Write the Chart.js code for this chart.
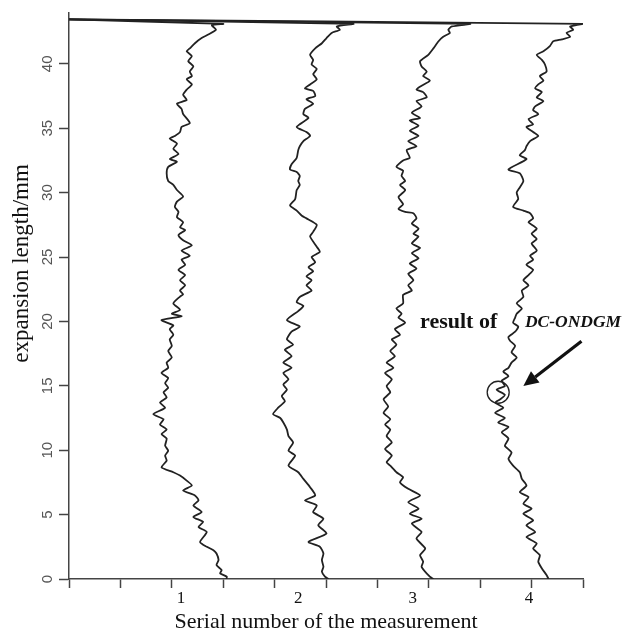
<!DOCTYPE html>
<html><head><meta charset="utf-8">
<script src="https://cdn.jsdelivr.net/npm/chart.js@4/dist/chart.umd.min.js"></script>
<style>html,body{margin:0;padding:0;background:#fff;}#wrap{width:628px;height:635px;}</style>
</head><body><div id="wrap"><canvas id="c" width="628" height="635"></canvas></div>
<script>
// Tick labels
const xTickLabels = ['1', '2', '3', '4'];
const yTickStep = 5;

// Measurement 1 (x: horizontal axis units, y: expansion length in mm)
const m1X = [0, 3.00, 2.78, 2.86, 2.71, 2.58, 2.45, 2.35, 2.29, 2.39, 2.32, 2.42, 2.35, 2.39, 2.29, 2.39, 2.29, 2.22, 2.29, 2.10, 2.19, 2.22, 2.35, 2.19, 2.16, 2.06, 1.96, 2.10, 2.03, 2.13, 1.96, 2.10, 1.93, 1.90, 1.93, 2.03, 2.10, 2.22, 2.10, 2.06, 2.13, 2.10, 2.22, 2.16, 2.26, 2.13, 2.22, 2.39, 2.19, 2.35, 2.19, 2.26, 2.13, 2.26, 2.16, 2.26, 2.16, 2.22, 2.16, 2.03, 2.16, 2.00, 2.19, 1.80, 2.03, 1.96, 2.03, 1.96, 2.00, 1.93, 2.00, 1.90, 1.93, 1.80, 1.93, 1.87, 1.93, 1.84, 1.90, 1.77, 1.87, 1.64, 1.84, 1.77, 1.90, 1.80, 1.90, 1.87, 1.93, 1.87, 1.90, 1.80, 2.03, 2.16, 2.29, 2.39, 2.22, 2.45, 2.52, 2.42, 2.58, 2.42, 2.61, 2.52, 2.68, 2.55, 2.68, 2.81, 2.87, 2.91, 2.87, 2.97, 2.94, 3.07, 3.06];
const m1Y = [43.45, 43.1, 42.99, 42.65, 42.27, 42.0, 41.6, 41.2, 40.98, 40.6, 40.2, 39.8, 39.4, 39.05, 38.8, 38.4, 38.0, 37.6, 37.2, 36.9, 36.5, 36.1, 35.4, 35.1, 34.7, 34.4, 34.2, 33.8, 33.4, 33.0, 32.6, 32.4, 32.0, 31.5, 30.9, 30.6, 30.2, 29.7, 29.3, 28.9, 28.5, 28.1, 27.7, 27.3, 27.1, 26.7, 26.3, 25.9, 25.5, 25.1, 24.8, 24.4, 24.0, 23.6, 23.2, 22.8, 22.4, 22.1, 21.93, 21.4, 20.9, 20.6, 20.4, 20.1, 19.7, 19.4, 18.97, 18.6, 18.1, 17.7, 17.2, 16.8, 16.4, 16.0, 15.6, 15.2, 14.85, 14.5, 14.1, 13.7, 13.3, 12.8, 12.4, 12.0, 11.6, 11.25, 10.9, 10.35, 9.96, 9.58, 9.19, 8.67, 8.29, 8.03, 7.64, 7.26, 6.87, 6.49, 6.10, 5.71, 5.20, 4.81, 4.43, 4.04, 3.65, 2.88, 2.50, 2.24, 1.98, 1.47, 1.08, 0.69, 0.44, 0.18, 0];

// Measurement 2
const m2X = [0, 5.53, 5.21, 5.27, 5.11, 5.01, 4.92, 4.79, 4.69, 4.75, 4.72, 4.82, 4.75, 4.82, 4.69, 4.59, 4.75, 4.79, 4.62, 4.75, 4.59, 4.56, 4.66, 4.43, 4.62, 4.69, 4.56, 4.49, 4.46, 4.43, 4.33, 4.30, 4.43, 4.49, 4.46, 4.49, 4.43, 4.40, 4.30, 4.43, 4.53, 4.62, 4.82, 4.75, 4.69, 4.82, 4.88, 4.72, 4.79, 4.66, 4.75, 4.62, 4.72, 4.62, 4.72, 4.49, 4.43, 4.56, 4.46, 4.24, 4.49, 4.33, 4.24, 4.36, 4.20, 4.33, 4.17, 4.33, 4.17, 4.27, 4.17, 4.24, 4.14, 4.20, 4.07, 3.97, 4.11, 4.17, 4.24, 4.27, 4.36, 4.27, 4.40, 4.27, 4.46, 4.56, 4.69, 4.79, 4.59, 4.82, 4.75, 4.95, 4.85, 5.01, 4.66, 4.88, 4.95, 4.92, 4.95, 4.92, 4.98, 5.05];
const m2Y = [43.45, 43.1, 42.9, 42.65, 42.4, 42.0, 41.6, 41.2, 40.7, 40.3, 39.95, 39.6, 39.2, 38.8, 38.4, 38.1, 37.9, 37.5, 37.25, 36.9, 36.5, 36.1, 35.8, 35.1, 34.7, 34.4, 34.0, 33.6, 33.3, 32.7, 32.2, 31.8, 31.6, 31.3, 30.9, 30.6, 30.2, 29.5, 29.0, 28.6, 28.2, 28.0, 27.5, 26.95, 26.6, 25.8, 25.4, 25.0, 24.6, 24.2, 23.9, 23.5, 23.2, 22.8, 22.4, 21.9, 21.5, 21.2, 20.8, 20.1, 19.6, 19.2, 18.6, 18.2, 17.8, 17.3, 16.8, 16.4, 16.0, 15.5, 15.1, 14.7, 14.2, 13.8, 13.3, 12.8, 12.5, 12.15, 11.6, 11.1, 10.6, 9.96, 9.58, 8.80, 8.29, 7.77, 7.13, 6.49, 6.10, 5.71, 5.20, 4.68, 4.17, 3.53, 2.88, 2.50, 1.98, 1.47, 0.95, 0.57, 0.18, 0];

// Measurement 3
const m3X = [0, 7.80, 7.45, 7.38, 7.41, 7.28, 7.19, 7.09, 6.99, 6.83, 6.86, 6.96, 6.89, 7.02, 6.86, 6.76, 6.89, 6.96, 6.76, 6.86, 6.67, 6.83, 6.63, 6.80, 6.63, 6.80, 6.60, 6.76, 6.57, 6.63, 6.50, 6.37, 6.50, 6.47, 6.54, 6.44, 6.54, 6.41, 6.50, 6.41, 6.54, 6.70, 6.76, 6.67, 6.80, 6.70, 6.80, 6.67, 6.83, 6.67, 6.80, 6.63, 6.76, 6.60, 6.70, 6.60, 6.67, 6.50, 6.50, 6.37, 6.47, 6.41, 6.54, 6.34, 6.44, 6.28, 6.37, 6.25, 6.34, 6.18, 6.31, 6.15, 6.28, 6.18, 6.25, 6.12, 6.21, 6.12, 6.25, 6.15, 6.25, 6.18, 6.28, 6.15, 6.28, 6.18, 6.25, 6.37, 6.50, 6.44, 6.60, 6.83, 6.60, 6.80, 6.63, 6.86, 6.67, 6.86, 6.76, 6.93, 6.83, 6.89, 6.86, 7.02, 7.09];
const m3Y = [43.45, 43.1, 42.9, 42.65, 42.4, 42.1, 41.75, 41.2, 40.7, 40.2, 39.8, 39.4, 39.05, 38.7, 38.3, 38.0, 37.8, 37.4, 37.1, 36.7, 36.2, 35.8, 35.6, 35.2, 34.8, 34.4, 34.0, 33.6, 33.3, 32.7, 32.5, 32.0, 31.7, 31.3, 30.9, 30.6, 30.2, 29.65, 29.1, 28.75, 28.5, 28.4, 28.0, 27.6, 27.2, 26.8, 26.6, 26.05, 25.7, 25.3, 24.9, 24.5, 24.1, 23.7, 23.2, 22.8, 22.4, 22.06, 21.4, 21.0, 20.6, 20.3, 19.9, 19.4, 18.97, 18.6, 18.2, 17.7, 17.3, 16.8, 16.4, 16.0, 15.5, 14.98, 14.5, 13.95, 13.4, 12.9, 12.4, 12.0, 11.6, 11.1, 10.6, 10.1, 9.58, 9.07, 8.80, 8.29, 7.90, 7.51, 7.0, 6.49, 5.97, 5.46, 5.07, 4.68, 4.30, 3.65, 3.14, 2.37, 1.85, 1.34, 0.95, 0.18, 0];

// Measurement 4 (DC-ONDGM)
const m4X = [0, 10.0, 9.75, 9.81, 9.68, 9.75, 9.59, 9.42, 9.36, 9.23, 9.10, 9.20, 9.26, 9.29, 9.16, 9.23, 9.13, 9.07, 9.20, 9.10, 9.23, 9.07, 9.03, 9.13, 8.94, 9.03, 8.90, 9.03, 9.13, 8.97, 8.90, 8.87, 8.77, 8.90, 8.55, 8.77, 8.84, 8.77, 8.71, 8.74, 8.64, 8.84, 8.97, 9.03, 8.94, 9.10, 9.00, 9.10, 9.00, 9.10, 8.97, 9.03, 8.90, 9.03, 8.94, 8.84, 8.94, 8.81, 8.84, 8.71, 8.81, 8.71, 8.68, 8.64, 8.74, 8.68, 8.55, 8.58, 8.68, 8.61, 8.71, 8.61, 8.55, 8.45, 8.55, 8.42, 8.48, 8.32, 8.48, 8.39, 8.29, 8.45, 8.29, 8.48, 8.35, 8.55, 8.42, 8.55, 8.48, 8.61, 8.55, 8.64, 8.77, 8.81, 8.90, 8.77, 8.94, 8.84, 9.00, 8.84, 9.03, 8.90, 9.07, 8.90, 9.10, 9.03, 9.16, 9.13, 9.20, 9.29, 9.33];
const m4Y = [43.45, 43.1, 42.9, 42.65, 42.4, 42.1, 41.9, 41.75, 41.4, 40.98, 40.7, 40.3, 39.95, 39.4, 39.05, 38.7, 38.4, 38.1, 37.8, 37.4, 37.1, 36.7, 36.4, 36.1, 35.7, 35.3, 35.1, 34.7, 34.4, 34.0, 33.6, 33.3, 32.9, 32.6, 31.8, 31.5, 30.9, 30.4, 30.0, 29.5, 28.9, 28.6, 28.4, 28.0, 27.7, 27.2, 26.8, 26.4, 26.05, 25.5, 25.1, 24.8, 24.4, 24.0, 23.6, 23.2, 22.8, 22.4, 21.9, 21.4, 21.0, 20.6, 20.3, 19.9, 19.6, 19.2, 18.8, 18.5, 18.1, 17.6, 17.2, 16.8, 16.4, 16.1, 15.75, 15.4, 14.98, 14.7, 14.3, 13.95, 13.7, 13.3, 12.9, 12.5, 12.15, 11.8, 11.4, 10.9, 10.35, 9.83, 9.32, 8.80, 8.29, 7.77, 7.26, 6.74, 6.36, 5.84, 5.46, 5.07, 4.56, 4.17, 3.65, 3.27, 2.75, 2.37, 1.85, 1.34, 0.82, 0.31, 0];

// Highlighted point (circle)
const markX = [8.35];
const markY = [14.5];

const toPts = (xs, ys) => xs.map((x, i) => ({x, y: ys[i]}));
const xLabelAt = [2.18, 4.46, 6.69, 8.95];
const AX = '#444';

const lineDs = (xs, ys) => ({
  data: toPts(xs, ys), showLine: true, borderColor: '#222', borderWidth: 1.8,
  pointRadius: 0, tension: 0.2, fill: false
});

const annotation = {
  id: 'annotation',
  afterDatasetsDraw(chart) {
    const {ctx, scales: {x, y}} = chart;
    ctx.save();
    ctx.fillStyle = '#111';
    ctx.textBaseline = 'alphabetic';
    ctx.textAlign = 'left';
    ctx.font = 'bold 22px "Liberation Serif"';
    ctx.fillText('result of', x.getPixelForValue(6.83), y.getPixelForValue(19.5));
    ctx.font = 'italic bold 17.5px "Liberation Serif"';
    ctx.fillText('DC-ONDGM', x.getPixelForValue(8.87), y.getPixelForValue(19.6));
    // arrow
    const x1 = x.getPixelForValue(9.97), y1 = y.getPixelForValue(18.46);
    const x2 = x.getPixelForValue(8.84), y2 = y.getPixelForValue(14.98);
    const ang = Math.atan2(y2 - y1, x2 - x1);
    const hl = 15, hw = 7;
    const bx = x2 - hl * Math.cos(ang), by = y2 - hl * Math.sin(ang);
    ctx.strokeStyle = '#111';
    ctx.lineWidth = 3.2;
    ctx.beginPath(); ctx.moveTo(x1, y1); ctx.lineTo(bx, by); ctx.stroke();
    ctx.beginPath();
    ctx.moveTo(x2, y2);
    ctx.lineTo(bx + hw * Math.sin(ang), by - hw * Math.cos(ang));
    ctx.lineTo(bx - hw * Math.sin(ang), by + hw * Math.cos(ang));
    ctx.closePath(); ctx.fill();
    // y-axis title (rotated, reads bottom to top)
    ctx.translate(22, y.getPixelForValue(24.5));
    ctx.rotate(-Math.PI / 2);
    ctx.font = '23px "Liberation Serif"';
    ctx.textAlign = 'center';
    ctx.textBaseline = 'middle';
    ctx.fillText('expansion length/mm', 0, 0);
    ctx.restore();
  }
};

new Chart(document.getElementById('c'), {
  type: 'scatter',
  data: {
    datasets: [
      lineDs(m1X, m1Y), lineDs(m2X, m2Y), lineDs(m3X, m3Y), lineDs(m4X, m4Y),
      {data: toPts(markX, markY), showLine: false, pointRadius: 11, pointHoverRadius: 11,
       pointBorderWidth: 1.3, pointBorderColor: '#222', pointBackgroundColor: 'rgba(0,0,0,0)'}
    ]
  },
  options: {
    responsive: false, devicePixelRatio: 1, animation: false,
    layout: {padding: {top: 9, right: 45, left: 0, bottom: 0}},
    plugins: {legend: {display: false}, tooltip: {enabled: false}},
    scales: {
      x: {
        type: 'linear', min: 0, max: 10,
        afterBuildTicks: s => {
          const vals = [0,1,2,3,4,5,6,7,8,9,10].concat(xLabelAt).sort((a, b) => a - b);
          s.ticks = vals.map(v => ({value: v}));
        },
        afterFit: s => { s.height = 56; },
        ticks: {
          autoSkip: false, maxRotation: 0, padding: 0, color: '#111',
          font: {family: 'Liberation Serif', size: 17},
          callback: v => { const i = xLabelAt.indexOf(v); return i >= 0 ? xTickLabels[i] : ''; }
        },
        grid: {drawOnChartArea: false, tickLength: 9, tickWidth: 1.5,
               tickColor: c => (c.tick && xLabelAt.includes(c.tick.value)) ? 'rgba(0,0,0,0)' : AX},
        border: {color: AX, width: 1.5},
        title: {display: true, text: 'Serial number of the measurement', color: '#111',
                font: {family: 'Liberation Serif', size: 22}, padding: {top: 0, bottom: 0}}
      },
      y: {
        type: 'linear', min: 0, max: 44,
        afterFit: s => { s.width = 69; },
        ticks: {stepSize: yTickStep, includeBounds: false, minRotation: 90, maxRotation: 90,
                crossAlign: 'center', padding: 3, color: '#555',
                font: {family: 'Liberation Sans', size: 15}},
        grid: {drawOnChartArea: false, tickLength: 10, tickWidth: 1.5, tickColor: AX},
        border: {color: AX, width: 1.5},
        title: {display: false}
      }
    }
  },
  plugins: [annotation]
});
</script></body></html>
